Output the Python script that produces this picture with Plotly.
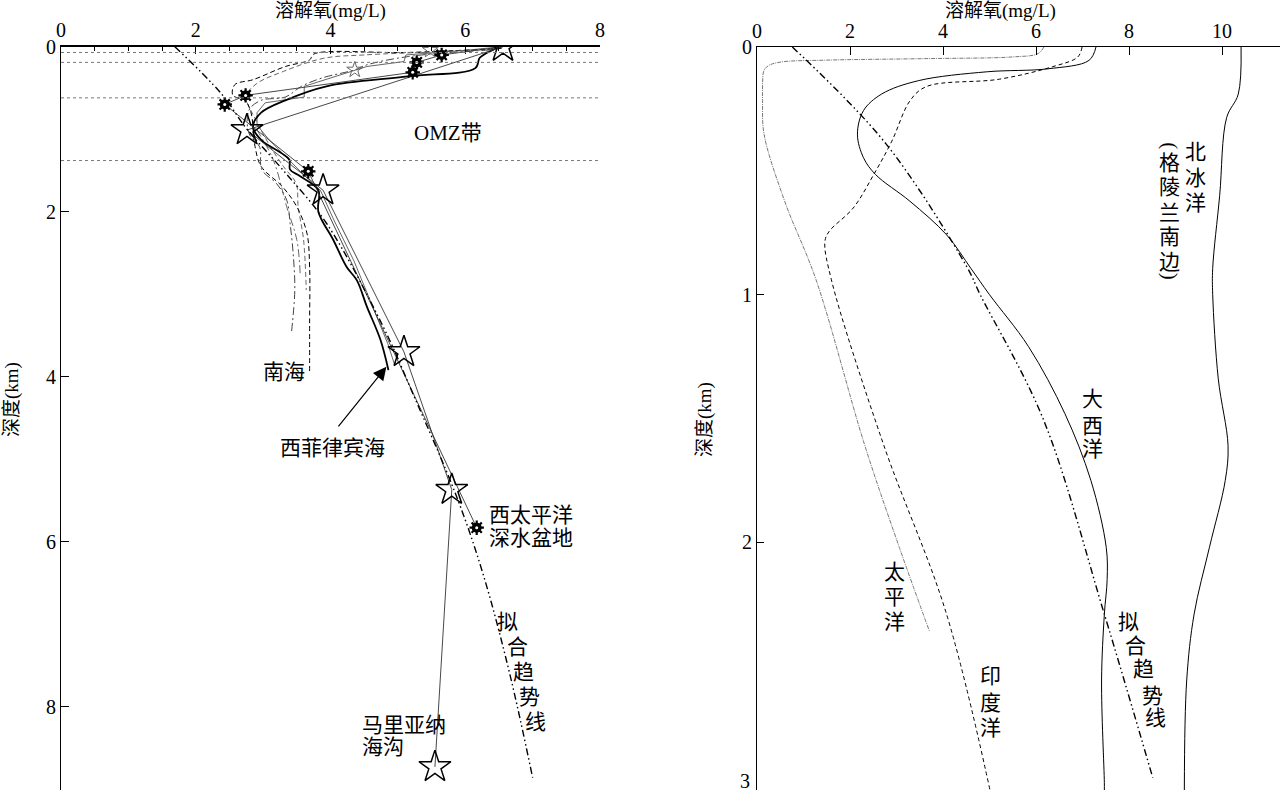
import plotly.graph_objects as go

# ---------------- left panel data (depth km, DO mg/L) ----------------
omz_lines = [0.07, 0.19, 0.62, 1.38]

trend_l_depth = [0, 0.57, 1.0, 1.5, 2.14, 3.39, 4.2, 5.45, 6.38, 7.6, 8.86]
trend_l_do = [1.69, 2.38, 2.76, 3.3, 3.94, 4.78, 5.22, 5.87, 6.26, 6.66, 7.0]

star_depth = [0, 1.01, 1.74, 3.7, 5.37, 8.73]
star_do = [6.56, 2.76, 3.89, 5.09, 5.8, 5.55]

sun_line_depth = [0, 0.1, 0.19, 0.31, 0.59, 0.70, 1.51, 5.83]
sun_line_do = [6.56, 5.65, 5.28, 5.22, 2.74, 2.43, 3.67, 6.17]
sun_depth = [0.1, 0.19, 0.31, 0.59, 0.70, 1.51, 5.83]
sun_do = [5.65, 5.28, 5.22, 2.74, 2.43, 3.67, 6.17]

small_star_depth = [0.04, 0.28]
small_star_do = [5.48, 4.36]

wps_depth = [0, 0.1, 0.14, 0.26, 0.36, 0.48, 0.65, 0.8, 0.97, 1.13, 1.29, 1.37,
             1.49, 1.57, 1.74, 2.0, 2.34, 2.67, 2.83, 3.15, 3.55, 3.92]
wps_do = [6.51, 6.27, 6.21, 6.15, 5.15, 3.94, 3.33, 2.97, 2.85, 2.97, 3.27, 3.39,
          3.4, 3.55, 3.82, 3.82, 4.04, 4.24, 4.39, 4.54, 4.74, 4.86]

thin_depth = [0, 0.04, 0.1, 0.18, 0.24, 0.48, 0.61, 0.68, 0.8, 0.95, 1.13, 1.33,
              1.55, 1.74, 2.1, 2.6, 3.1, 3.6, 3.85]
thin_do = [6.54, 6.05, 5.12, 5.09, 4.54, 3.61, 3.61, 3.03, 2.91, 2.91, 3.09, 3.33,
           3.6, 3.85, 4.05, 4.35, 4.6, 4.85, 4.95]

scs1_depth = [0.02, 0.07, 0.09, 0.16, 0.24, 0.4, 0.46, 0.59, 0.65, 0.8, 1.21, 1.45,
              1.7, 1.94, 2.26, 2.67, 3.35, 3.96]
scs1_do = [6.54, 5.15, 3.75, 3.69, 3.33, 2.85, 2.58, 2.55, 2.73, 2.82, 2.88, 2.97,
           3.29, 3.5, 3.65, 3.69, 3.69, 3.69]

scs2_depth = [0.04, 0.12, 0.22, 0.28, 0.38, 0.48, 0.61, 0.65, 0.77, 1.05, 1.22, 1.49,
              1.66, 1.86, 2.14, 2.55, 2.95, 3.47]
scs2_do = [6.36, 5.15, 4.54, 4.36, 3.87, 3.57, 3.33, 2.97, 2.79, 2.79, 2.95, 2.98,
           3.2, 3.35, 3.4, 3.45, 3.47, 3.42]

scs3_depth = [0.03, 0.06, 0.1, 0.14, 0.3, 0.45, 0.6, 0.9, 1.2, 1.45, 1.66, 1.94, 2.34, 2.95]
scs3_do = [6.4, 5.6, 4.5, 3.9, 3.3, 2.9, 2.75, 2.9, 3.1, 3.3, 3.49, 3.52, 3.6, 3.64]

scs4_depth = [1.0, 1.37, 1.94, 2.34, 2.75]
scs4_do = [2.9, 3.15, 3.35, 3.5, 3.55]

# ---------------- right panel data ----------------
atl_depth = [0, 0.054, 0.088, 0.1, 0.136, 0.19, 0.257, 0.352, 0.447, 0.515, 0.623,
             0.759, 0.894, 1.0, 1.21, 1.48, 1.75, 2.02, 2.15, 2.29, 2.56, 2.97, 3.0]
atl_do = [7.29, 7.14, 6.26, 4.95, 3.47, 2.68, 2.29, 2.16, 2.29, 2.55, 3.29,
          4.08, 4.6, 5.0, 5.84, 6.62, 7.18, 7.51, 7.53, 7.47, 7.41, 7.47, 7.47]

arc_depth = [0, 0.19, 0.285, 0.6, 0.894, 1.0, 1.34, 1.61, 1.75, 2.02, 2.29, 2.56, 3.0]
arc_do = [10.41, 10.35, 10.1, 9.95, 9.8, 9.8, 9.92, 10.13, 10.07, 9.73, 9.4, 9.24, 9.19]

ind_depth = [0, 0.04, 0.08, 0.13, 0.16, 0.217, 0.38, 0.515, 0.65, 0.745, 0.786,
             0.94, 1.61, 2.28, 3.0]
ind_do = [6.99, 6.9, 6.35, 5.21, 3.64, 3.29, 2.9, 2.51, 2.07, 1.55, 1.46,
          1.6, 2.73, 4.06, 5.01]

pac_depth = [0, 0.027, 0.04, 0.047, 0.053, 0.061, 0.075, 0.095, 0.15, 0.217, 0.35,
             0.62, 0.94, 1.61, 2.02, 2.36]
pac_do = [6.17, 6.04, 5.5, 3.6, 1.5, 0.5, 0.25, 0.15, 0.12, 0.12, 0.15,
          0.59, 1.27, 2.32, 3.06, 3.71]

trend_r_depth = [0, 0.39, 0.89, 1.0, 1.5, 2.29, 2.95]
trend_r_do = [0.76, 2.77, 4.52, 4.8, 6.15, 7.47, 8.51]

FONT = "Liberation Serif, Noto Sans CJK SC, serif"
DDOT = "7px,3px,1.5px,3px,1.5px,3px"

W, H = 1280, 791


def fx(px):
    return px / W


def fy(py):
    return 1 - py / H


fig = go.Figure()


def line(x, y, ax, color="black", width=1.0, dash="solid", shape="linear"):
    xa, ya = ("x", "y") if ax == 1 else ("x2", "y2")
    fig.add_trace(go.Scatter(x=x, y=y, mode="lines", xaxis=xa, yaxis=ya,
                             line=dict(color=color, width=width, dash=dash, shape=shape),
                             hoverinfo="skip"))


def marks(x, y, **mk):
    fig.add_trace(go.Scatter(x=x, y=y, mode="markers", marker=mk, hoverinfo="skip"))


# left panel
for d in omz_lines:
    fig.add_shape(type="line", xref="x", yref="y", x0=0, x1=8, y0=d, y1=d,
                  line=dict(color="#777", width=1, dash="dot"))

line(scs4_do, scs4_depth, 1, "#555", 0.9, "8px,3px,2px,3px", "spline")
line(scs3_do, scs3_depth, 1, "#555", 0.9, "5px,3px", "spline")
line(scs2_do, scs2_depth, 1, "#444", 1.0, "8px,3px,2px,3px", "spline")
line(scs1_do, scs1_depth, 1, "black", 1.0, "5px,3px", "spline")
line(thin_do, thin_depth, 1, "#555", 0.9)
line(wps_do, wps_depth, 1, "black", 1.8, "solid", "spline")
line(sun_line_do, sun_line_depth, 1, "#333", 0.9)
line(star_do, star_depth, 1, "#333", 0.9)
line(trend_l_do, trend_l_depth, 1, "black", 1.4, DDOT, "spline")

marks(small_star_do, small_star_depth, symbol="star-open", size=12, color="#666",
      line=dict(width=1))
marks(sun_do, sun_depth, symbol="asterisk-open", size=12, color="black",
      line=dict(width=2.2, color="black"))
marks(sun_do, sun_depth, symbol="circle", size=10, color="black", line=dict(width=0))
marks(sun_do, sun_depth, symbol="circle", size=3, color="white", line=dict(width=0))
marks(star_do, star_depth, symbol="star-open", size=24, color="black", line=dict(width=1.5))

# right panel
line(pac_do, pac_depth, 2, "#777", 1.0, "4px,1px,1px,1px", "spline")
line(ind_do, ind_depth, 2, "black", 1.0, "4px,3px", "spline")
line(atl_do, atl_depth, 2, "black", 1.0, "solid", "spline")
line(arc_do, arc_depth, 2, "black", 1.0, "solid", "spline")
line(trend_r_do, trend_r_depth, 2, "black", 1.4, DDOT, "spline")

ann = []


def text(s, x, y, ref=1, size=21, xanchor="center", angle=0):
    xr, yr = ("x", "y") if ref == 1 else ("x2", "y2")
    ann.append(dict(text=s, x=x, y=y, xref=xr, yref=yr, showarrow=False,
                    xanchor=xanchor, yanchor="middle", textangle=angle,
                    font=dict(family=FONT, size=size, color="black")))


def vtext(s, xs, ys, ref):
    for ch, x, y in zip(s, xs, ys):
        text(ch, x, y, ref)


text("OMZ带", 5.75, 1.05)
text("南海", 3.31, 3.94)
text("西菲律宾海", 4.03, 4.87)
text("西太平洋", 6.32, 5.68, xanchor="left")
text("深水盆地", 6.32, 5.96, xanchor="left")
text("马里亚纳", 4.44, 8.22, xanchor="left")
text("海沟", 4.44, 8.49, xanchor="left")
vtext("拟合趋势线", [6.63, 6.77, 6.86, 6.96, 7.04], [6.97, 7.28, 7.58, 7.88, 8.19], 1)

ann.append(dict(x=4.83, y=3.88, ax=4.1, ay=4.62, xref="x", yref="y", axref="x", ayref="y",
                text="", showarrow=True, arrowhead=2, arrowsize=2.2, arrowwidth=1.2,
                arrowcolor="black"))

vtext("北冰洋", [9.42] * 3, [0.423, 0.528, 0.63], 2)
vtext("格陵兰南边", [8.88] * 5, [0.468, 0.565, 0.67, 0.766, 0.87], 2)
text("(", 8.88, 0.40, 2, angle=90)
text(")", 8.88, 0.927, 2, angle=90)
vtext("大西洋", [7.21] * 3, [1.42, 1.53, 1.625], 2)
vtext("太平洋", [2.95] * 3, [2.12, 2.22, 2.32], 2)
vtext("印度洋", [5.03] * 3, [2.54, 2.65, 2.75], 2)
vtext("拟合趋势线", [7.99, 8.14, 8.32, 8.51, 8.58], [2.32, 2.42, 2.51, 2.62, 2.71], 2)

for s, px in (("溶解氧(mg/L)", 330), ("溶解氧(mg/L)", 1000)):
    ann.append(dict(text=s, x=fx(px), y=fy(11), xref="paper", yref="paper",
                    xanchor="center", yanchor="middle", showarrow=False,
                    font=dict(family=FONT, size=19, color="black")))
for px, py in ((12, 400), (705, 420)):
    ann.append(dict(text="深度(km)", x=fx(px), y=fy(py), xref="paper", yref="paper",
                    xanchor="center", yanchor="middle", showarrow=False, textangle=-90,
                    font=dict(family=FONT, size=19, color="black")))

# the bottom "3" depth label sits on the page edge, where plotly drops it
ann.append(dict(text="3", x=fx(752), y=fy(781), xref="paper", yref="paper",
                xanchor="right", yanchor="middle", showarrow=False,
                font=dict(family=FONT, size=20, color="black")))

axis_common = dict(showgrid=False, zeroline=False, showline=True, linecolor="black",
                   ticks="inside", tickcolor="black", automargin=False,
                   tickfont=dict(family=FONT, size=20, color="black"))

fig.update_layout(
    template="none",
    width=W, height=H, margin=dict(l=0, r=0, t=0, b=0, autoexpand=False),
    paper_bgcolor="white", plot_bgcolor="white", showlegend=False,
    annotations=ann,
    xaxis=dict(domain=[fx(61), fx(600)], range=[0, 8], side="top", anchor="y",
               tickvals=[0, 2, 4, 6, 8], ticklen=7, linewidth=2,
               minor=dict(dtick=0.5, ticks="inside", ticklen=4, tickcolor="black"),
               **axis_common),
    yaxis=dict(domain=[fy(790), fy(46.7)], range=[(790 - 46.7) / 82.5, 0], anchor="x",
               tickvals=[0, 2, 4, 6, 8], ticklen=8, linewidth=1.2, **axis_common),
    xaxis2=dict(domain=[fx(757), 1.0], range=[0, (1280 - 757) / 46.5], side="top",
                anchor="y2", tickvals=[0, 2, 4, 6, 8, 10], ticklen=8, linewidth=1.2,
                **axis_common),
    yaxis2=dict(domain=[fy(790), fy(47)], range=[3, 0], anchor="x2",
                tickvals=[0, 1, 2, 3], ticktext=["0", "1", "2", ""], ticklen=7,
                linewidth=1.2, **axis_common),
)

# drop the default 8px body margin so the figure sits flush with the window corner
fig.write_html("out.html", config={"displayModeBar": False},
               post_script="document.body.style.margin='0';")
